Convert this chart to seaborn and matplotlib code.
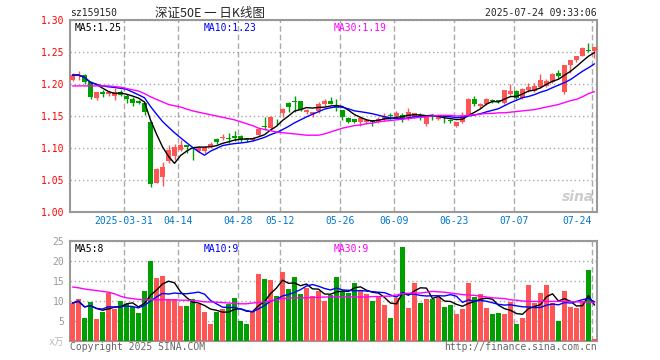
import numpy as np
import pandas as pd
import seaborn as sns
import matplotlib
matplotlib.use("Agg")
import matplotlib.pyplot as plt

# daily candles, 2025-03-18 .. 2025-07-24
opens = [1.207, 1.212, 1.214, 1.203, 1.178, 1.187, 1.185, 1.182, 1.188, 1.182,
         1.177, 1.173, 1.170, 1.140, 1.046, 1.054, 1.079, 1.087, 1.097, 1.104,
         1.100, 1.095, 1.096, 1.102, 1.114, 1.115, 1.116, 1.119, 1.118, 1.114,
         1.113, 1.121, 1.134, 1.131, 1.144, 1.154, 1.171, 1.173, 1.173, 1.156,
         1.153, 1.158, 1.168, 1.173, 1.167, 1.159, 1.147, 1.145, 1.140, 1.140,
         1.143, 1.141, 1.145, 1.151, 1.150, 1.151, 1.149, 1.149, 1.152, 1.137,
         1.150, 1.145, 1.144, 1.143, 1.135, 1.140, 1.151, 1.176, 1.165, 1.169,
         1.174, 1.174, 1.170, 1.185, 1.189, 1.178, 1.191, 1.189, 1.196, 1.197,
         1.203, 1.217, 1.187, 1.230, 1.237, 1.244, 1.253, 1.252]
highs = [1.217, 1.220, 1.215, 1.204, 1.188, 1.191, 1.189, 1.194, 1.190, 1.184,
         1.180, 1.175, 1.172, 1.140, 1.068, 1.078, 1.104, 1.106, 1.113, 1.105,
         1.101, 1.103, 1.103, 1.110, 1.115, 1.122, 1.124, 1.126, 1.121, 1.115,
         1.117, 1.131, 1.149, 1.150, 1.145, 1.162, 1.172, 1.181, 1.174, 1.161,
         1.157, 1.172, 1.177, 1.180, 1.176, 1.160, 1.149, 1.146, 1.150, 1.146,
         1.144, 1.149, 1.154, 1.154, 1.158, 1.154, 1.163, 1.155, 1.154, 1.149,
         1.153, 1.150, 1.148, 1.146, 1.141, 1.157, 1.178, 1.182, 1.170, 1.178,
         1.176, 1.175, 1.191, 1.200, 1.190, 1.194, 1.201, 1.202, 1.215, 1.208,
         1.217, 1.222, 1.230, 1.238, 1.244, 1.258, 1.264, 1.258]
lows = [1.204, 1.207, 1.200, 1.176, 1.175, 1.179, 1.182, 1.175, 1.181, 1.170,
        1.166, 1.168, 1.151, 1.039, 1.045, 1.040, 1.077, 1.082, 1.095, 1.092,
        1.082, 1.093, 1.092, 1.100, 1.107, 1.112, 1.108, 1.111, 1.109, 1.109,
        1.111, 1.118, 1.128, 1.128, 1.136, 1.149, 1.156, 1.157, 1.158, 1.153,
        1.148, 1.154, 1.165, 1.168, 1.158, 1.144, 1.139, 1.139, 1.134, 1.137,
        1.134, 1.139, 1.142, 1.145, 1.148, 1.140, 1.144, 1.147, 1.143, 1.135,
        1.143, 1.143, 1.139, 1.139, 1.133, 1.139, 1.150, 1.165, 1.163, 1.167,
        1.170, 1.171, 1.169, 1.183, 1.176, 1.177, 1.188, 1.187, 1.194, 1.195,
        1.201, 1.210, 1.185, 1.217, 1.235, 1.243, 1.250, 1.240]
closes = [1.214, 1.214, 1.203, 1.179, 1.187, 1.185, 1.187, 1.188, 1.183, 1.177,
          1.171, 1.171, 1.157, 1.043, 1.067, 1.071, 1.097, 1.102, 1.104, 1.101,
          1.098, 1.102, 1.102, 1.107, 1.109, 1.116, 1.114, 1.116, 1.113, 1.113,
          1.116, 1.129, 1.133, 1.149, 1.143, 1.161, 1.164, 1.172, 1.160, 1.159,
          1.157, 1.169, 1.174, 1.169, 1.163, 1.149, 1.140, 1.140, 1.147, 1.144,
          1.140, 1.146, 1.150, 1.150, 1.154, 1.145, 1.157, 1.154, 1.148, 1.148,
          1.149, 1.148, 1.143, 1.142, 1.140, 1.152, 1.177, 1.168, 1.169, 1.177,
          1.173, 1.173, 1.190, 1.189, 1.178, 1.192, 1.196, 1.197, 1.207, 1.205,
          1.216, 1.212, 1.229, 1.237, 1.243, 1.257, 1.251, 1.258]
# volume in 万手
volumes = [9.5, 10.4, 5.7, 9.7, 5.4, 7.25, 12.1, 7.9, 9.9, 9.3,
           8.5, 7.0, 12.4, 20.0, 15.7, 16.25, 10.4, 10.4, 8.7, 8.7,
           10.4, 9.3, 7.3, 4.2, 7.2, 8.1, 9.3, 10.7, 5.0, 4.2,
           7.5, 16.75, 15.6, 15.2, 11.2, 17.25, 12.9, 16.0, 11.8, 13.25,
           11.25, 12.5, 10.0, 11.5, 16.0, 12.5, 12.0, 14.5, 12.7, 11.8,
           9.9, 11.0, 9.0, 5.7, 10.8, 23.5, 8.2, 14.5, 9.5, 10.4,
           10.5, 11.0, 8.5, 9.0, 6.8, 8.1, 14.5, 11.0, 11.8, 8.2,
           6.7, 7.0, 6.7, 9.75, 4.2, 5.75, 14.0, 9.5, 12.0, 14.0,
           9.5, 5.0, 12.5, 8.5, 8.25, 9.9, 17.7, 0.5]
# 30-day averages as drawn (they include days before the window)
price_ma30 = [1.197, 1.197, 1.197, 1.197, 1.197, 1.197, 1.197, 1.196, 1.195, 1.193,
              1.191, 1.189, 1.185, 1.180, 1.176, 1.172, 1.168, 1.166, 1.164, 1.161,
              1.158, 1.156, 1.154, 1.152, 1.150, 1.148, 1.146, 1.144, 1.141, 1.138,
              1.135, 1.131, 1.129, 1.127, 1.125, 1.124, 1.123, 1.122, 1.121, 1.120,
              1.120, 1.120, 1.122, 1.125, 1.128, 1.131, 1.133, 1.135, 1.136, 1.138,
              1.139, 1.141, 1.142, 1.143, 1.144, 1.145, 1.146, 1.147, 1.148, 1.149,
              1.150, 1.151, 1.151, 1.151, 1.150, 1.150, 1.151, 1.152, 1.153, 1.154,
              1.154, 1.155, 1.155, 1.156, 1.157, 1.158, 1.159, 1.160, 1.162, 1.164,
              1.166, 1.168, 1.171, 1.174, 1.176, 1.180, 1.185, 1.188]
volume_ma30 = [13.5, 13.3, 13.0, 12.8, 12.6, 12.4, 12.2, 11.8, 11.2, 10.8,
               10.6, 10.4, 10.3, 10.3, 10.3, 10.3, 10.3, 10.3, 10.2, 10.2,
               10.1, 10.0, 9.8, 9.75, 9.7, 9.6, 9.5, 9.4, 9.3, 9.3,
               9.5, 9.6, 9.8, 10.0, 10.3, 10.6, 10.7, 10.8, 10.8, 10.8,
               10.9, 10.9, 11.0, 11.0, 11.0, 11.0, 11.0, 11.0, 11.0, 11.0,
               11.1, 11.1, 11.2, 11.2, 11.5, 11.8, 11.9, 12.0, 12.0, 12.2,
               12.4, 12.3, 12.2, 12.0, 11.8, 11.6, 11.5, 11.4, 11.2, 11.0,
               10.8, 10.7, 10.6, 10.3, 10.2, 10.0, 9.9, 9.9, 9.9, 9.9,
               9.9, 9.9, 9.9, 9.8, 9.8, 9.75, 9.7, 9.6]
tick_pos = [9, 18, 28, 35, 45, 54, 64, 74, 87]
tick_labels = ["2025-03-31", "04-14", "04-28", "05-12", "05-26",
               "06-09", "06-23", "07-07", "07-24"]

df = pd.DataFrame({"open": opens, "high": highs, "low": lows,
                   "close": closes, "volume": volumes,
                   "ma30": price_ma30, "vma30": volume_ma30})
df["idx"] = np.arange(len(df))
df["ma5"] = df["close"].rolling(5, min_periods=1).mean()
df["ma10"] = df["close"].rolling(10, min_periods=1).mean()
df["vma5"] = df["volume"].rolling(5, min_periods=1).mean()
df["vma10"] = df["volume"].rolling(10, min_periods=1).mean()
df["up"] = df["close"] >= df["open"]

RED = "#ff5555"
GREEN = "#009f00"
GRID = "#aaaaaa"

sns.set_style("white")
plt.rcParams["font.family"] = ["DejaVu Sans Mono", "Noto Sans CJK SC"]

fig = plt.figure(figsize=(6.6, 3.6), dpi=100)
ax = fig.add_axes([70 / 660, 1 - 212 / 360, 527 / 660, 192 / 360])
axv = fig.add_axes([70 / 660, 1 - 341 / 360, 527 / 660, 100 / 360])

# candles
colors = np.where(df["up"], RED, GREEN)
ax.vlines(df["idx"], df["low"], df["high"], colors=colors, lw=1, zorder=3)
body = np.maximum((df["close"] - df["open"]).abs(), 0.0015)
ax.bar(df["idx"], body, bottom=np.minimum(df["open"], df["close"]),
       width=0.72, color=colors, lw=0, zorder=3)

sns.lineplot(data=df, x="idx", y="ma5", ax=ax, color="black", lw=1, zorder=4)
sns.lineplot(data=df, x="idx", y="ma10", ax=ax, color="#0000ff", lw=1, zorder=4)
sns.lineplot(data=df, x="idx", y="ma30", ax=ax, color="#ff00ff", lw=1, zorder=4)

# volume
sns.barplot(data=df, x="idx", y="volume", hue="up", palette={True: RED, False: GREEN},
            dodge=False, native_scale=True, width=0.88, saturation=1,
            errorbar=None, legend=False, linewidth=0, ax=axv, zorder=3)
sns.lineplot(data=df, x="idx", y="vma5", ax=axv, color="black", lw=1, zorder=4)
sns.lineplot(data=df, x="idx", y="vma10", ax=axv, color="#0000ff", lw=1, zorder=4)
sns.lineplot(data=df, x="idx", y="vma30", ax=axv, color="#ff00ff", lw=1, zorder=4)

grid_x = np.array(tick_pos) - 0.4
for a in (ax, axv):
    a.set_xlim(-0.42, 87.42)
    a.set_xlabel("")
    a.set_ylabel("")
    a.vlines(grid_x, 0, 1, transform=a.get_xaxis_transform(), colors=GRID,
             lw=1, linestyles=(0, (4, 2.2)), zorder=1)
    a.grid(axis="y", color=GRID, lw=1, linestyle=(0, (1, 2)), zorder=1)
    a.grid(axis="x", visible=False)
    for s in a.spines.values():
        s.set_color("#999999")
        s.set_linewidth(1.5)
    a.tick_params(length=0, pad=4, labelsize=7)

ax.set_ylim(1.0, 1.3)
ax.set_yticks([1.00, 1.05, 1.10, 1.15, 1.20, 1.25, 1.30])
ax.set_yticklabels(["1.00", "1.05", "1.10", "1.15", "1.20", "1.25", "1.30"], color="red")
ax.set_xticks(grid_x)
ax.set_xticklabels(tick_labels, color="#0077cc")
ax.get_xticklabels()[-1].set_horizontalalignment("right")
ax.tick_params(axis="x", pad=3)

axv.set_ylim(0, 25)
axv.set_yticks([0, 5, 10, 15, 20, 25])
axv.set_yticklabels(["x万", "5", "10", "15", "20", "25"], color="#999999")
axv.get_yticklabels()[0].set_color("#bbbbbb")
axv.set_xticks([])

# legends
ax.text(0.008, 0.985, "MA5:1.25", transform=ax.transAxes, va="top", fontsize=7, color="black")
ax.text(0.254, 0.985, "MA10:1.23", transform=ax.transAxes, va="top", fontsize=7, color="#0000ff")
ax.text(0.501, 0.985, "MA30:1.19", transform=ax.transAxes, va="top", fontsize=7, color="#ff00ff")
axv.text(0.008, 0.97, "MA5:8", transform=axv.transAxes, va="top", fontsize=7, color="black")
axv.text(0.254, 0.97, "MA10:9", transform=axv.transAxes, va="top", fontsize=7, color="#0000ff")
axv.text(0.501, 0.97, "MA30:9", transform=axv.transAxes, va="top", fontsize=7, color="#ff00ff")

ax.text(0.995, 0.08, "sina", transform=ax.transAxes, ha="right", va="center",
        fontsize=10, style="italic", weight="bold", color="#cccccc",
        family="DejaVu Sans", zorder=2)

# header and footer
fig.text(70 / 660, 1 - 13 / 360, "sz159150", va="center", fontsize=7)
fig.text(210 / 660, 1 - 13 / 360, "深证50E 一 日K线图", ha="center", va="center",
         fontsize=9, family=["Noto Sans CJK SC", "DejaVu Sans"])
fig.text(597 / 660, 1 - 13 / 360, "2025-07-24 09:33:06", ha="right", va="center", fontsize=7)
fig.text(70 / 660, 1 - 347 / 360, "Copyright 2025 SINA.COM", va="center", fontsize=7, color="#666666")
fig.text(597 / 660, 1 - 347 / 360, "http://finance.sina.com.cn", ha="right", va="center",
         fontsize=7, color="#666666")

fig.savefig("out.png", dpi=100, facecolor="white")
